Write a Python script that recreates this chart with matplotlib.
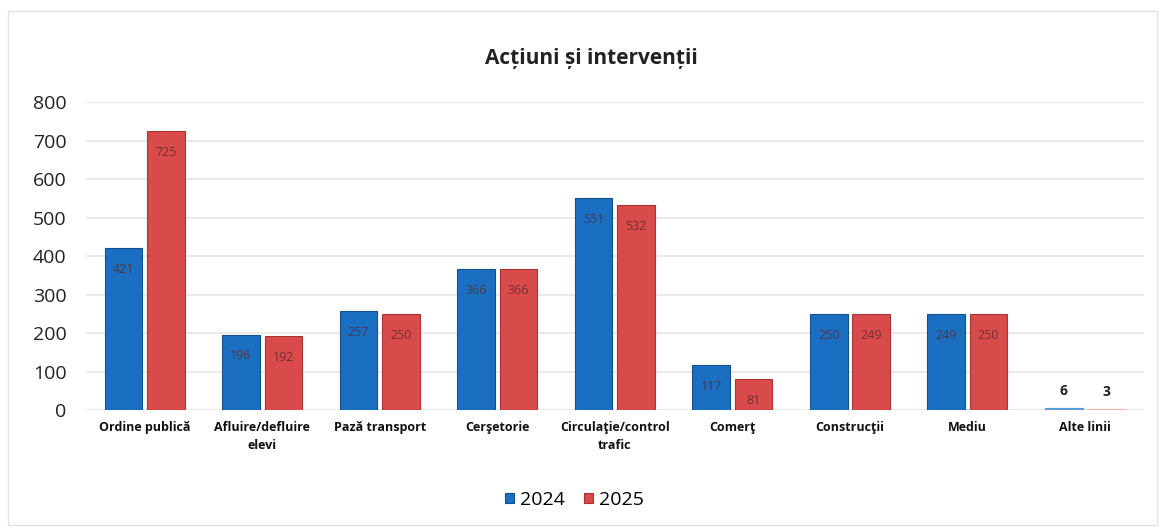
import matplotlib.pyplot as plt
import numpy as np
from matplotlib.patches import Rectangle

categories = ['Ordine publică', 'Afluire/defluire\nelevi', 'Pază transport', 'Cerşetorie',
              'Circulaţie/control\ntrafic', 'Comerţ', 'Construcţii', 'Mediu', 'Alte linii']
vals_2024 = [421, 196, 257, 366, 551, 117, 250, 249, 6]
vals_2025 = [725, 192, 250, 366, 532, 81, 249, 250, 3]
years = ['2024', '2025']

blue = '#1b6fc2'
red = '#d94b4b'

plt.rcParams['font.family'] = ['Open Sans', 'DejaVu Sans']

fig = plt.figure(figsize=(11.6, 5.3), dpi=100)
ax = fig.add_axes([0.074, 0.226, 0.912, 0.581])

x = np.arange(len(categories))
w = 0.32
off = 0.18
b1 = ax.bar(x - off, vals_2024, w, color=blue, edgecolor='#16508c', linewidth=0.8, label=years[0], zorder=3)
b2 = ax.bar(x + off, vals_2025, w, color=red, edgecolor='#a83434', linewidth=0.8, label=years[1], zorder=3)

# the last group has tiny values: lighter bars, bold labels above
b1[-1].set_color('#5b9bd5')
b2[-1].set_color('#f4b0a8')

for bars, vals in ((b1, vals_2024), (b2, vals_2025)):
    for i, (bar, v) in enumerate(zip(bars, vals)):
        cx = bar.get_x() + bar.get_width() / 2
        if i == len(vals) - 1:
            ax.text(cx, v + 25, str(v), ha='center', va='bottom', fontsize=10,
                    fontweight='bold', color='#222222')
        else:
            ax.text(cx, v - 55, str(v), ha='center', va='center', fontsize=9,
                    color='#5a2a2a', alpha=0.8, zorder=4)

ax.set_xlim(-0.5, len(categories) - 0.5)
ax.set_ylim(0, 800)
ax.set_yticks(range(0, 801, 100))
ax.yaxis.grid(True, color='#e6e6e6', linewidth=1.2, zorder=0)
ax.set_axisbelow(True)
for s in ax.spines.values():
    s.set_visible(False)
ax.tick_params(axis='both', length=0)
ax.tick_params(axis='y', labelsize=14, pad=14, labelcolor='#222222')

# category labels: one centred text per line
ax.set_xticks(x)
ax.set_xticklabels([])
for xi, cat in zip(x, categories):
    for j, line in enumerate(cat.split('\n')):
        ax.annotate(line, xy=(xi, 0), xycoords=ax.get_xaxis_transform(),
                    xytext=(0, -8 - 13 * j), textcoords='offset points',
                    ha='center', va='top', fontsize=9, fontweight='bold', color='#111111')

fig.text(0.51, 0.89, 'Acțiuni și intervenții', ha='center', va='center',
         fontsize=15, fontweight='bold', color='#222222')

fig.legend(handles=[b1, b2], labels=years, loc='center', bbox_to_anchor=(0.495, 0.057),
           ncol=2, frameon=False, fontsize=14, handlelength=0.45, handleheight=0.45,
           columnspacing=1.0, handletextpad=0.3)

fig.patches.append(Rectangle((0.007, 0.01), 0.99, 0.97, transform=fig.transFigure,
                             fill=False, edgecolor='#e3e3e3', linewidth=1))

plt.savefig('out.png', dpi=100)
